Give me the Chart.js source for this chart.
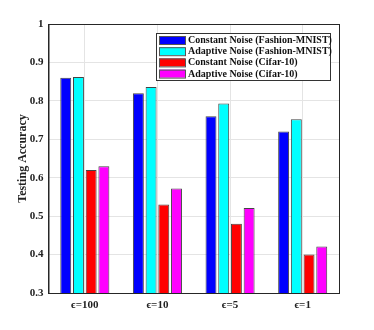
<!DOCTYPE html>
<html>
<head>
<meta charset="utf-8">
<script src="https://cdn.jsdelivr.net/npm/chart.js@4.4.1/dist/chart.umd.min.js"></script>
<style>
  html, body { margin: 0; padding: 0; background: #fff; }
  #wrap { width: 374px; height: 330px; }
</style>
</head>
<body>
<div id="wrap"><canvas id="accChart" width="374" height="330"></canvas></div>
<script>
const categories = ["\u03f5=100", "\u03f5=10", "\u03f5=5", "\u03f5=1"];
const constFashion = [0.86, 0.82, 0.76, 0.72];
const adaptFashion = [0.862, 0.836, 0.793, 0.752];
const constCifar = [0.62, 0.53, 0.48, 0.40];
const adaptCifar = [0.63, 0.572, 0.521, 0.421];
const yTicks = [0.3, 0.4, 0.5, 0.6, 0.7, 0.8, 0.9, 1];

const serifBold = "bold 10px 'Liberation Serif', 'DejaVu Serif', serif";

// legend drawn inside the plot, top right, like the MATLAB figure
const insideLegend = {
  id: "insideLegend",
  afterDraw(chart) {
    const { ctx, chartArea } = chart;
    const x0 = chartArea.right - 183;
    const y0 = chartArea.top + 9;
    const w = 174, h = 47;
    ctx.save();
    ctx.fillStyle = "#fff";
    ctx.fillRect(x0, y0, w, h);
    ctx.strokeStyle = "#333";
    ctx.lineWidth = 1;
    ctx.strokeRect(x0 + 0.5, y0 + 0.5, w, h);
    ctx.font = serifBold;
    ctx.textBaseline = "middle";
    chart.data.datasets.forEach((ds, i) => {
      const cy = y0 + 7 + i * 11.2;
      ctx.fillStyle = ds.backgroundColor;
      ctx.fillRect(x0 + 3, cy - 4, 26, 8);
      ctx.strokeStyle = "#555";
      ctx.strokeRect(x0 + 3.5, cy - 3.5, 26, 8);
      ctx.fillStyle = "#111";
      ctx.fillText(ds.label, x0 + 32, cy + 0.5);
    });
    ctx.restore();
  },
};

// box around the axes
const axesBox = {
  id: "axesBox",
  afterDatasetsDraw(chart) {
    const { ctx, chartArea: a } = chart;
    ctx.save();
    ctx.strokeStyle = "#262626";
    ctx.lineWidth = 1;
    ctx.strokeRect(a.left + 0.5, a.top + 0.5, a.right - a.left, a.bottom - a.top);
    ctx.restore();
  },
};

const makeSet = (label, data, color) => ({
  label: label,
  data: data,
  backgroundColor: color,
  borderColor: "#444",
  borderWidth: 1,
  barPercentage: 0.86,
  categoryPercentage: 0.7,
});

new Chart(document.getElementById("accChart"), {
  type: "bar",
  data: {
    labels: categories,
    datasets: [
      makeSet("Constant Noise (Fashion-MNIST)", constFashion, "#0000ff"),
      makeSet("Adaptive Noise (Fashion-MNIST)", adaptFashion, "#00ffff"),
      makeSet("Constant Noise (Cifar-10)", constCifar, "#ff0000"),
      makeSet("Adaptive Noise (Cifar-10)", adaptCifar, "#ff00ff"),
    ],
  },
  options: {
    responsive: false,
    animation: false,
    layout: { padding: { left: 16, right: 35, top: 24, bottom: 0 } },
    plugins: { legend: { display: false }, tooltip: { enabled: false } },
    scales: {
      x: {
        grid: { display: true, color: "#e4e4e4", drawTicks: false, offset: false },
        border: { color: "#262626" },
        ticks: { color: "#222", font: { family: "'Liberation Serif', serif", size: 11, weight: "bold" }, padding: 6 },
        afterFit(scale) { scale.height = 37; },
      },
      y: {
        min: 0.3,
        max: 1,
        afterBuildTicks(scale) { scale.ticks = yTicks.map((v) => ({ value: v })); },
        grid: { color: "#e4e4e4", drawTicks: false },
        border: { color: "#262626" },
        ticks: {
          color: "#222",
          padding: 5,
          font: { family: "'Liberation Serif', serif", size: 11, weight: "bold" },
          callback: (v) => (v === 1 ? "1" : v.toFixed(1)),
        },
        title: {
          display: true,
          text: "Testing Accuracy",
          color: "#222",
          font: { family: "'Liberation Serif', serif", size: 12, weight: "bold" },
          padding: { top: 0, bottom: 0 },
        },
        afterFit(scale) { scale.width = 32.5; },
      },
    },
  },
  plugins: [axesBox, insideLegend],
});
</script>
</body>
</html>
